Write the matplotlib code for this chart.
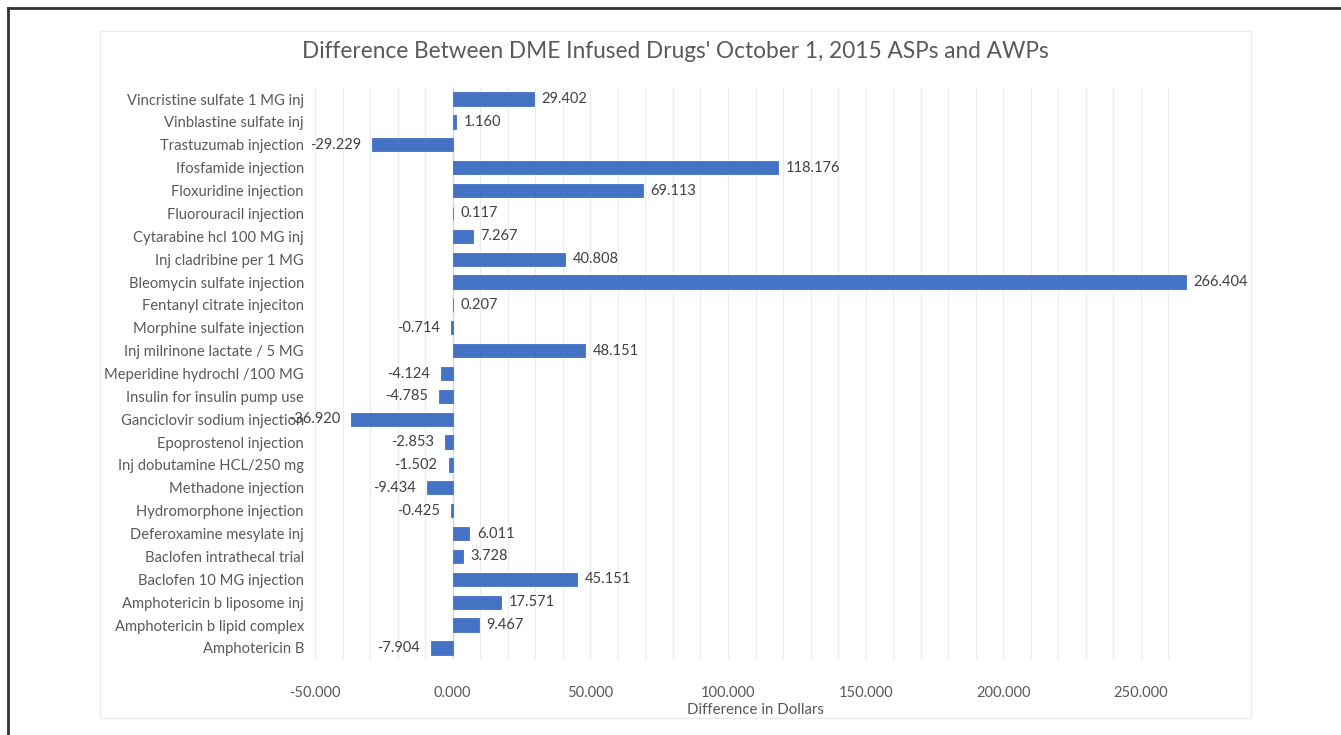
import matplotlib
matplotlib.use("Agg")
import matplotlib.pyplot as plt
from matplotlib.patches import Rectangle
from matplotlib.lines import Line2D
import numpy as np

plt.rcParams['font.family'] = ['Lato', 'DejaVu Sans']

drugs = [
    "Vincristine sulfate 1 MG inj",
    "Vinblastine sulfate inj",
    "Trastuzumab injection",
    "Ifosfamide injection",
    "Floxuridine injection",
    "Fluorouracil injection",
    "Cytarabine hcl 100 MG inj",
    "Inj cladribine per 1 MG",
    "Bleomycin sulfate injection",
    "Fentanyl citrate injeciton",
    "Morphine sulfate injection",
    "Inj milrinone lactate / 5 MG",
    "Meperidine hydrochl /100 MG",
    "Insulin for insulin pump use",
    "Ganciclovir sodium injection",
    "Epoprostenol injection",
    "Inj dobutamine HCL/250 mg",
    "Methadone injection",
    "Hydromorphone injection",
    "Deferoxamine mesylate inj",
    "Baclofen intrathecal trial",
    "Baclofen 10 MG injection",
    "Amphotericin b liposome inj",
    "Amphotericin b lipid complex",
    "Amphotericin B",
]
differences = [29.402, 1.160, -29.229, 118.176, 69.113, 0.117, 7.267, 40.808,
               266.404, 0.207, -0.714, 48.151, -4.124, -4.785, -36.920, -2.853,
               -1.502, -9.434, -0.425, 6.011, 3.728, 45.151, 17.571, 9.467, -7.904]
x_ticks = [-50, 0, 50, 100, 150, 200, 250]
x_tick_labels = ["-50.000", "0.000", "50.000", "100.000", "150.000", "200.000", "250.000"]

W, H = 1341, 735
fig = plt.figure(figsize=(W / 100, H / 100), dpi=100)
fig.patch.set_facecolor('white')

# outer frame (top and left lines)
fig.add_artist(Line2D([8 / W, 1.0], [1 - 8 / H, 1 - 8 / H], color='#333333', lw=2, transform=fig.transFigure))
fig.add_artist(Line2D([8 / W, 8 / W], [0, 1 - 8 / H], color='#333333', lw=2, transform=fig.transFigure))
# chart area border
fig.add_artist(Rectangle((100 / W, 1 - 718 / H), 1151 / W, 687 / H, fill=False,
                         edgecolor='#EBEBEB', lw=1, transform=fig.transFigure))

left, right = 315 / W, 1196 / W
top, bottom = 1 - 87.6 / H, 1 - 659.4 / H
ax = fig.add_axes([left, bottom, right - left, top - bottom])

n = len(drugs)
y = np.arange(n)[::-1]
ax.barh(y, differences, height=0.58, color='#4472C4', edgecolor='#4472C4', lw=0.6, zorder=3)
ax.set_xlim(-50, 270)
ax.set_ylim(-0.5, n - 0.5)
ax.set_yticks(y)
ax.set_yticklabels(drugs, fontsize=10.6, color='#595959')
ax.set_xticks(x_ticks)
ax.set_xticklabels(x_tick_labels, fontsize=10.5, color='#595959')
ax.set_xticks(np.arange(-50, 271, 10), minor=True)
ax.tick_params(axis='both', length=0, which='both')
ax.tick_params(axis='y', pad=8)
ax.tick_params(axis='x', pad=19)
ax.grid(axis='x', which='both', color='#EDEDED', lw=0.9, zorder=0)
ax.set_axisbelow(True)
for s in ['top', 'right', 'bottom', 'left']:
    ax.spines[s].set_visible(False)
ax.axvline(0, color='#D9D9D9', lw=1, zorder=2)

for yi, v in zip(y, differences):
    if v >= 0:
        ax.annotate(f"{v:.3f}", (v, yi), xytext=(5.5, 0), textcoords='offset points',
                    ha='left', va='center', fontsize=10.5, color='#404040')
    else:
        ax.annotate(f"{v:.3f}", (v, yi), xytext=(-8, 0), textcoords='offset points',
                    ha='right', va='center', fontsize=10.5, color='#404040')

ax.set_xlabel("Difference in Dollars", fontsize=10.8, color='#595959', labelpad=2)
fig.text(675 / W, 1 - 51 / H, "Difference Between DME Infused Drugs' October 1, 2015 ASPs and AWPs",
         ha='center', va='center', fontsize=16.3, color='#595959')

fig.savefig("out.png", dpi=100, facecolor='white')
